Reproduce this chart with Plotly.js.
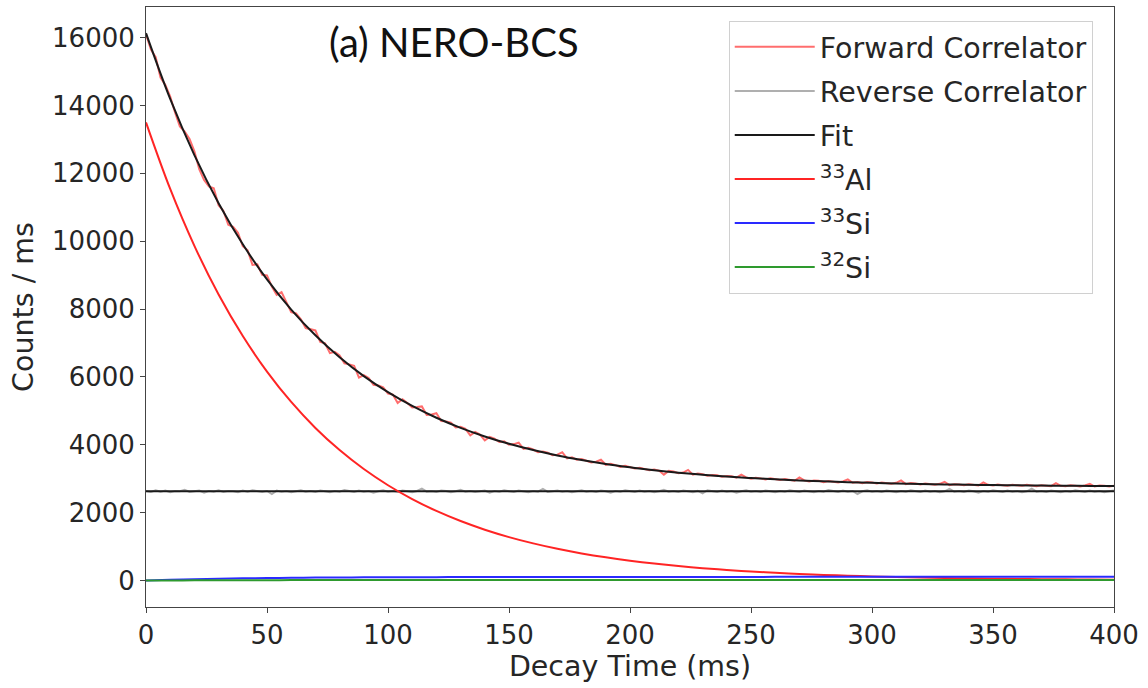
<!DOCTYPE html>
<html>
<head>
<meta charset="utf-8">
<script src="https://cdn.plot.ly/plotly-3.0.1.min.js"></script>
<style>html,body{margin:0;padding:0;background:#fff;}#chart{width:1148px;height:688px;}</style>
</head>
<body>
<div id="chart"></div>
<script>
// Time step of the correlator histograms (ms) and the fit sampling grid
const dataStepMs = 2;
const fitStepMs = 10;

// Forward correlator counts / ms, t = 0..400 ms in 2 ms bins
const forwardCorrelator = [
  16100,15650,15420,14820,14600,14260,13790,13380,13230,13010,
  12650,12120,11800,11610,11560,11060,10890,10480,10420,10250,
  9850,9730,9300,9320,9010,8990,8660,8420,8500,8190,
  7910,7870,7700,7440,7400,7370,7030,6990,6700,6740,
  6630,6400,6370,6330,5980,6050,5970,5770,5750,5690,
  5510,5480,5230,5340,5230,5100,5110,5130,4880,4890,
  4930,4700,4690,4650,4510,4530,4470,4280,4380,4300,
  4130,4230,4180,4080,4100,4000,4020,4060,3880,3910,
  3860,3780,3800,3770,3690,3710,3780,3600,3630,3560,
  3580,3540,3480,3500,3560,3410,3440,3400,3350,3380,
  3350,3300,3320,3290,3250,3270,3240,3120,3230,3210,
  3160,3180,3260,3120,3150,3130,3090,3110,3100,3060,
  3080,3070,3030,3120,3040,3000,3030,3010,2980,3010,
  2990,2960,2990,2970,2940,3040,2950,2920,2950,2940,
  2900,2930,2920,2890,2920,2980,2880,2900,2870,2900,
  2890,2860,2890,2880,2850,2880,2950,2840,2870,2860,
  2830,2860,2850,2820,2850,2910,2810,2840,2830,2810,
  2840,2830,2800,2890,2820,2800,2830,2810,2790,2820,
  2810,2790,2820,2800,2780,2810,2800,2780,2870,2790,
  2780,2810,2790,2770,2800,2850,2770,2800,2790,2770,
  2790
];

// Reverse correlator counts / ms, t = 0..400 ms in 2 ms bins
const reverseCorrelator = [
  2640,2610,2660,2620,2650,2600,2640,2630,2670,2610,
  2630,2650,2590,2640,2620,2660,2610,2640,2630,2600,
  2650,2620,2660,2630,2610,2640,2550,2650,2620,2640,
  2600,2630,2660,2620,2640,2610,2650,2630,2600,2640,
  2620,2670,2630,2610,2650,2620,2640,2590,2630,2660,
  2620,2640,2610,2650,2630,2600,2640,2710,2620,2630,
  2610,2650,2640,2600,2630,2670,2620,2640,2610,2630,
  2650,2590,2640,2620,2660,2630,2610,2650,2630,2600,
  2640,2620,2700,2610,2630,2650,2620,2640,2600,2630,
  2660,2620,2640,2610,2650,2630,2590,2640,2620,2660,
  2630,2610,2650,2620,2640,2600,2630,2670,2620,2640,
  2610,2650,2630,2600,2640,2570,2660,2630,2610,2650,
  2620,2640,2590,2630,2660,2620,2640,2610,2650,2630,
  2600,2640,2620,2660,2630,2610,2650,2630,2600,2640,
  2620,2670,2630,2610,2650,2620,2640,2550,2630,2660,
  2620,2640,2610,2650,2630,2600,2640,2620,2660,2630,
  2610,2650,2620,2640,2600,2630,2700,2620,2640,2610,
  2650,2630,2590,2640,2620,2660,2630,2610,2650,2620,
  2640,2600,2630,2710,2620,2640,2610,2650,2630,2600,
  2640,2620,2660,2630,2610,2650,2620,2640,2600,2630,
  2650
];

// Fit components, t = 0..400 ms every 10 ms
const fitForward = [
  16130,14193,12537,11120,9908,8872,7984,7226,6578,6022,
  5549,5143,4796,4500,4246,4029,3844,3685,3551,3435,
  3337,3252,3179,3118,3065,3021,2983,2950,2922,2898,
  2878,2861,2846,2833,2822,2814,2806,2799,2793,2788,
  2783
];
const fitReverse = [
  2630,2630,2630,2630,2630,2630,2630,2630,2630,2630,
  2630,2630,2630,2630,2630,2630,2630,2630,2630,2630,
  2630,2630,2630,2630,2630,2630,2630,2630,2630,2630,
  2630,2630,2630,2630,2630,2630,2630,2630,2630,2630,
  2630
];
const al33 = [
  13500,11538,9861,8428,7203,6157,5262,4497,3844,3285,
  2808,2400,2051,1753,1498,1280,1094,935,799,683,
  584,499,426,364,311,266,227,194,166,142,
  121,104,89,76,65,56,48,41,35,30,
  25
];
const si33 = [
  0,22,40,54,65,74,80,86,90,93,
  96,98,100,101,102,103,104,104,105,105,
  106,106,106,107,107,107,108,108,108,108,
  109,109,109,109,109,110,110,110,110,110,
  110
];
const si32 = [
  0,3,6,8,10,11,12,13,14,14,
  15,15,15,16,16,16,16,16,17,17,
  17,17,17,17,17,18,18,18,18,18,
  18,18,18,18,18,18,18,18,18,18,
  18
];

const xTicks = [0, 50, 100, 150, 200, 250, 300, 350, 400];
const yTicks = [0, 2000, 4000, 6000, 8000, 10000, 12000, 14000, 16000];

const tData = forwardCorrelator.map((_, i) => i * dataStepMs);
const tRev = reverseCorrelator.map((_, i) => i * dataStepMs);
const tFit = fitForward.map((_, i) => i * fitStepMs);

const traces = [
  {x: tData, y: forwardCorrelator, type: 'scatter', mode: 'lines', name: 'Forward Correlator',
   legendgroup: 'g1', line: {color: 'rgba(255,30,30,0.65)', width: 2}},
  {x: tRev, y: reverseCorrelator, type: 'scatter', mode: 'lines', name: 'Reverse Correlator',
   legendgroup: 'g2', line: {color: 'rgba(110,110,110,0.55)', width: 2}},
  {x: tFit, y: fitForward, type: 'scatter', mode: 'lines', name: 'Fit',
   legendgroup: 'g3', line: {color: '#1a1a1a', width: 2, shape: 'spline'}},
  {x: tFit, y: fitReverse, type: 'scatter', mode: 'lines', name: 'Fit', showlegend: false,
   legendgroup: 'g3', line: {color: '#1a1a1a', width: 2}},
  {x: tFit, y: al33, type: 'scatter', mode: 'lines', name: '<sup>33</sup>Al',
   legendgroup: 'g4', line: {color: '#ff2424', width: 2, shape: 'spline'}},
  {x: tFit, y: si33, type: 'scatter', mode: 'lines', name: '<sup>33</sup>Si',
   legendgroup: 'g5', line: {color: '#2a2aff', width: 2, shape: 'spline'}},
  {x: tFit, y: si32, type: 'scatter', mode: 'lines', name: '<sup>32</sup>Si',
   legendgroup: 'g6', line: {color: '#2e9a2e', width: 2, shape: 'spline'}}
];

const tickFont = {family: 'DejaVu Sans, sans-serif', size: 26, color: '#262626'};
const titleFont = {family: 'DejaVu Sans, sans-serif', size: 28.5, color: '#262626'};

const layout = {
  width: 1148, height: 688,
  margin: {l: 146, r: 34, t: 7, b: 81, pad: 0},
  paper_bgcolor: '#fff', plot_bgcolor: '#fff',
  font: tickFont,
  showlegend: true,
  legend: {
    x: 0.602, y: 0.977, xanchor: 'left', yanchor: 'top',
    bgcolor: '#fff', bordercolor: '#d0d0d0', borderwidth: 1,
    font: {family: 'DejaVu Sans, sans-serif', size: 28.5, color: '#262626'},
    tracegroupgap: 4, traceorder: 'grouped', itemwidth: 80
  },
  xaxis: {
    range: [0, 400], tickvals: xTicks, ticktext: xTicks.map(String),
    showgrid: false, zeroline: false, showline: true, mirror: true,
    linecolor: '#444', linewidth: 1, ticks: 'outside', ticklen: 5, tickcolor: '#444',
    tickfont: tickFont,
    title: {text: 'Decay Time (ms)', font: titleFont, standoff: 5}
  },
  yaxis: {
    range: [-780, 16900], tickvals: yTicks, ticktext: yTicks.map(String),
    showgrid: false, zeroline: false, showline: true, mirror: true,
    linecolor: '#444', linewidth: 1, ticks: 'outside', ticklen: 5, tickcolor: '#444',
    tickfont: tickFont,
    title: {text: 'Counts / ms', font: titleFont, standoff: 10}
  },
  annotations: [{
    text: '(a) NERO-BCS', xref: 'paper', yref: 'paper', x: 0.318, y: 0.942,
    xanchor: 'center', yanchor: 'middle', showarrow: false,
    font: {family: 'Lato, sans-serif', size: 40, color: '#111'}
  }]
};

Plotly.newPlot('chart', traces, layout, {displayModeBar: false, staticPlot: true});
</script>
</body>
</html>
